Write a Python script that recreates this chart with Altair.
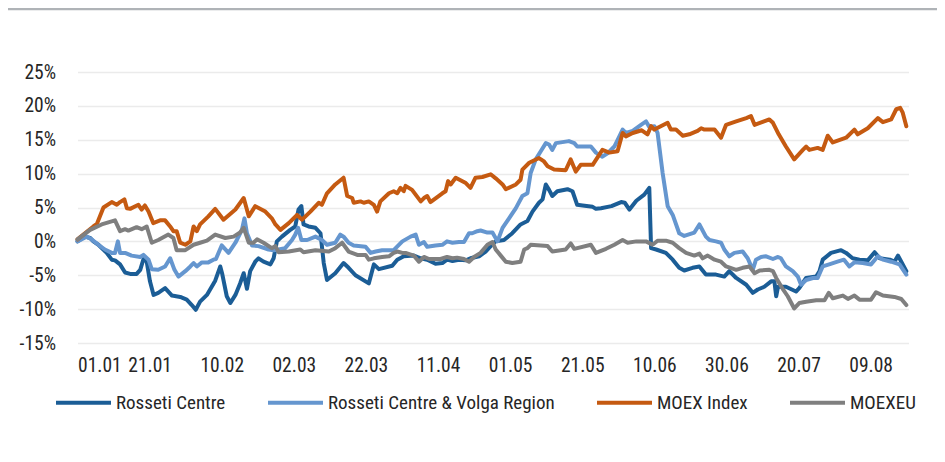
import altair as alt
import pandas as pd

FONT = "Roboto Condensed"
FS = 19.5
LFS = 19

series_names = ["Rosseti Centre", "Rosseti Centre & Volga Region", "MOEX Index", "MOEXEU"]
series_colors = ["#1b5d96", "#6596cf", "#c55a11", "#7f7f7f"]
start_date = "2021-01-01"
tick_days = [0, 20, 40, 60, 80, 100, 120, 140, 160, 180, 200, 220]
y_ticks = [-15, -10, -5, 0, 5, 10, 15, 20, 25]

# Rosseti Centre (day offset from 01.01, % change)
rc_days = [0, 2.1, 3.5, 4.4, 5.8, 8.1, 9.5, 10.4, 11.8, 13.2, 14.6, 16.4, 17.4, 18.3, 19.2, 20.1, 21.1, 22.4,
           24.3, 26.2, 28.5, 30.3, 31.7, 32.8, 34.0, 35.9, 38.2, 39.6, 40.1, 41.4, 42.4, 43.8, 45.1, 46.1, 47.0,
           47.9, 49.3, 50.2, 51.6, 53.5, 54.4, 55.3, 56.7, 59.0, 60.4, 61.3, 62.1, 62.7, 64.1, 66.0, 67.4, 68.3,
           69.2, 71.5, 73.8, 75.2, 77.1, 80.8, 82.2, 83.6, 87.3, 88.7, 90.5, 93.3, 95.2, 97.0, 99.3, 101.2, 102.5,
           104.0, 105.8, 107.7, 109.0, 111.4, 113.2, 114.6, 116.0, 118.3, 120.6, 122.9, 124.8, 126.2, 128.0,
           129.0, 129.9, 130.8, 131.7, 133.1, 135.9, 137.3, 138.6, 140.1, 142.9, 143.8, 145.2, 148.1, 150.8,
           151.8, 153.1, 155.0, 157.2, 158.6, 159.1, 160.5, 163.2, 165.1, 166.9, 168.3, 170.6, 172.5, 174.3,
           177.1, 179.4, 180.8, 182.7, 185.5, 187.3, 188.7, 190.5, 192.4, 193.3, 193.8, 194.3, 196.5, 199.3,
           200.2, 202.1, 204.9, 205.8, 206.7, 209.0, 211.8, 213.2, 215.0, 216.9, 219.2, 221.1, 222.5, 225.3,
           226.6, 227.6, 228.5, 229.9]
rc_vals = [0.0, 0.7, 0.5, 0.0, -0.5, -1.7, -2.7, -2.8, -3.4, -4.6, -4.8, -4.8, -4.2, -2.6, -3.0, -5.9, -7.9, -7.6,
           -6.9, -8.0, -8.2, -8.6, -9.4, -10.1, -8.9, -7.9, -5.8, -3.7, -4.7, -8.1, -9.1, -7.9, -6.2, -4.7, -7.0,
           -4.4, -3.0, -2.5, -3.0, -3.4, -2.5, 0.0, 0.7, 1.7, 2.2, 4.7, 5.2, 2.5, 2.2, 2.0, 1.2, -3.2,
           -5.7, -4.7, -3.2, -3.9, -5.0, -6.2, -3.4, -4.1, -3.6, -2.7, -2.2, -2.1, -2.5, -2.7, -3.3, -3.2, -2.7,
           -2.9, -2.7, -2.8, -2.5, -2.2, -1.5, -0.7, 0.0, 0.2, 1.2, 2.5, 3.0, 4.4, 5.7,
           6.2, 8.4, 7.6, 6.7, 7.4, 7.7, 7.4, 5.4, 5.3, 5.1, 4.8, 4.9, 5.2, 5.8,
           5.7, 4.7, 6.0, 6.9, 7.9, -1.0, -1.2, -1.7, -2.7, -3.9, -4.3, -3.9, -3.7, -4.9,
           -4.9, -5.2, -4.4, -5.4, -6.4, -7.6, -7.1, -6.7, -5.9, -5.9, -8.1, -6.7, -6.7, -7.4,
           -6.9, -5.4, -5.2, -4.4, -2.7, -1.7, -1.3, -1.7, -2.5, -2.7, -2.8, -1.6, -2.5, -2.7,
           -3.0, -2.1, -3.0, -4.4]

# Rosseti Centre & Volga Region
rcv_days = [0, 2.5, 3.9, 5.8, 7.6, 9.5, 10.4, 11.2, 11.8, 13.2, 15.0, 17.4, 18.3, 19.7, 20.6, 22.4, 24.3, 25.7,
            26.9, 28.0, 29.9, 31.3, 32.2, 33.1, 34.5, 36.3, 37.7, 38.4, 40.0, 41.9, 43.8, 45.6, 46.3, 47.0, 48.4,
            50.2, 53.0, 54.4, 55.8, 57.6, 59.5, 60.4, 61.2, 62.1, 63.7, 66.0, 67.8, 69.2, 71.5, 72.9, 73.8, 75.2,
            76.6, 79.9, 81.3, 82.7, 84.5, 87.7, 90.1, 92.4, 93.8, 94.7, 96.1, 97.0, 99.3, 101.2, 102.5, 104.0,
            105.8, 107.2, 108.6, 109.5, 110.9, 111.8, 113.7, 115.1, 116.5, 117.9, 119.7, 121.6, 123.4, 124.8,
            125.7, 127.1, 128.5, 129.9, 130.8, 131.7, 132.7, 136.3, 137.8, 138.6, 142.4, 143.8, 145.6, 147.0,
            148.9, 150.3, 151.2, 152.1, 154.0, 156.3, 157.7, 158.6, 160.0, 160.9, 162.3, 163.7, 165.1, 166.9,
            168.3, 171.1, 172.5, 174.3, 175.3, 177.1, 178.5, 179.4, 180.8, 182.2, 184.5, 185.9, 187.3, 188.2,
            189.6, 191.0, 192.9, 194.3, 195.1, 196.5, 198.4, 199.8, 200.7, 202.1, 204.0, 205.3, 206.7, 208.5,
            210.8, 212.6, 214.1, 215.5, 217.8, 220.1, 222.0, 223.4, 225.7, 228.0, 229.9]
rcv_vals = [0.0, 0.7, 0.3, -0.5, -1.2, -1.7, -1.7, 0.0, -1.7, -1.7, -2.1, -2.3, -2.0, -2.7, -4.1, -4.2, -3.7, -2.5,
            -4.2, -5.2, -4.4, -3.7, -3.2, -3.7, -3.1, -3.1, -2.7, -2.6, -0.6, -1.7, -0.2, 1.7, 3.4, 1.2, -0.6,
            -0.7, -1.2, -1.3, -1.2, -1.0, 0.2, 1.0, 2.0, 0.2, 0.2, 0.7, 0.2, -0.5, -0.2, 1.0, 0.7, -0.2,
            -0.6, -0.8, -1.7, -1.5, -1.3, -1.3, 0.0, 0.7, 1.0, -0.5, -0.1, -0.8, -0.6, -0.5, 0.0, -0.2,
            -0.1, -0.1, 1.2, 1.2, 1.5, 1.6, 1.3, 1.3, 0.0, 2.0, 3.4, 4.9, 6.7, 7.1,
            10.1, 12.1, 13.3, 14.5, 14.3, 13.5, 14.5, 14.8, 14.5, 14.0, 14.0, 13.1, 12.5, 13.0,
            14.0, 15.5, 16.5, 16.0, 16.3, 17.2, 17.7, 16.9, 17.0, 16.0, 10.1, 5.2, 3.9, 1.2,
            0.8, 1.3, 2.5, 0.7, 0.2, 0.0, -0.2, -1.2, -2.2, -1.7, -1.5, -2.5, -4.2, -2.7,
            -2.3, -2.2, -2.6, -2.3, -2.5, -3.7, -4.4, -5.2, -6.4, -5.7, -5.4, -5.4, -3.7, -3.4,
            -3.0, -2.7, -3.7, -3.1, -3.2, -3.4, -2.2, -2.7, -3.0, -3.4, -4.9]

# MOEX Index
moex_days = [0, 4.4, 5.4, 7.2, 9.5, 10.9, 11.8, 13.0, 13.7, 14.6, 16.9, 17.8, 18.7, 19.7, 21.0, 22.9, 24.3, 25.7,
             26.6, 27.5, 28.5, 29.9, 31.3, 32.2, 33.1, 34.0, 36.3, 38.2, 40.5, 43.8, 46.1, 47.5, 49.3, 52.1, 53.9,
             54.9, 56.3, 58.6, 60.9, 62.3, 64.6, 66.9, 67.8, 69.2, 71.5, 73.8, 74.8, 76.2, 76.6, 78.5, 79.4, 80.8,
             82.2, 83.1, 84.0, 86.4, 87.7, 88.7, 89.6, 90.5, 91.0, 92.8, 95.2, 96.1, 97.0, 97.9, 101.2, 102.1,
             102.8, 103.5, 104.9, 107.7, 109.0, 110.4, 112.3, 114.6, 116.0, 117.9, 118.8, 121.6, 122.9, 123.4,
             125.3, 128.0, 129.4, 130.4, 132.2, 135.4, 136.8, 138.2, 139.6, 142.9, 145.6, 147.5, 149.8, 151.2,
             152.1, 154.0, 156.5, 158.1, 159.1, 160.0, 163.7, 164.6, 166.0, 167.9, 169.7, 172.0, 173.0, 173.9,
             176.7, 178.5, 179.9, 182.7, 185.5, 186.8, 187.8, 191.9, 192.9, 194.5, 196.5, 198.8, 201.2, 202.1,
             203.0, 205.3, 206.7, 208.1, 209.5, 213.2, 215.5, 216.4, 219.2, 222.0, 223.4, 225.7, 227.1, 228.2,
             228.9, 229.9]
moex_vals = [0.3, 2.2, 2.6, 5.0, 5.8, 5.4, 5.8, 6.2, 4.9, 4.8, 5.4, 4.7, 5.3, 4.4, 2.7, 3.1, 3.1, 2.2,
             1.5, 1.5, -0.2, -0.5, 0.0, 2.2, 1.5, 2.5, 3.7, 4.8, 3.2, 4.7, 6.4, 3.7, 5.2, 4.4, 3.4,
             2.5, 1.7, 2.7, 3.9, 3.2, 4.4, 5.7, 5.4, 7.1, 8.4, 9.4, 6.7, 6.4, 5.7, 5.9, 5.7, 5.9,
             5.4, 4.4, 5.9, 7.1, 7.4, 7.1, 7.9, 7.4, 8.2, 7.6, 5.9, 6.4, 6.7, 5.8, 7.1, 7.4,
             8.9, 8.4, 9.4, 8.6, 7.9, 9.4, 9.5, 9.9, 9.3, 8.4, 7.7, 8.4, 9.1, 10.6,
             11.6, 12.3, 11.8, 11.1, 10.6, 10.5, 12.1, 10.3, 11.3, 11.3, 13.5, 13.1, 13.3, 16.0,
             15.5, 16.0, 16.4, 15.8, 17.0, 16.5, 17.5, 16.5, 16.5, 15.6, 15.8, 16.3, 16.7, 16.5,
             16.5, 15.3, 17.2, 17.7, 18.2, 18.5, 17.2, 18.0, 17.5, 15.8, 14.0, 12.1, 13.5, 14.0,
             13.5, 13.8, 13.5, 15.6, 14.6, 15.3, 16.5, 15.8, 16.7, 18.2, 17.6, 18.0, 19.5, 19.7,
             19.0, 17.0]

# MOEXEU
eu_days = [0, 3.5, 6.7, 10.4, 11.8, 13.2, 14.1, 16.4, 17.8, 19.2, 20.6, 22.4, 25.2, 26.6, 27.5, 29.9, 32.2, 34.0,
           35.9, 38.2, 41.0, 43.3, 45.1, 46.1, 47.5, 48.8, 49.8, 51.6, 53.9, 54.9, 55.8, 58.6, 61.8, 62.7, 66.0,
           69.7, 71.5, 73.4, 75.2, 77.6, 79.9, 80.8, 82.2, 84.5, 86.4, 87.7, 88.7, 90.1, 91.0, 93.3, 94.7, 96.1,
           97.5, 100.7, 102.5, 104.0, 105.3, 107.2, 108.6, 110.0, 111.8, 113.7, 115.1, 116.0, 117.4, 118.8,
           120.6, 122.9, 123.9, 124.8, 125.7, 130.4, 131.7, 135.4, 136.8, 137.8, 142.4, 143.8, 146.6, 148.9,
           151.2, 152.6, 155.0, 157.7, 159.5, 160.9, 163.2, 165.1, 166.9, 168.8, 171.1, 172.5, 173.4, 174.8,
           176.7, 178.5, 179.9, 182.7, 184.5, 186.4, 187.8, 189.2, 191.9, 192.9, 193.8, 195.6, 197.0, 198.8,
           200.2, 202.1, 204.9, 207.2, 208.4, 209.5, 212.3, 213.7, 215.5, 216.9, 220.1, 221.5, 223.4, 226.6,
           228.5, 229.9]
eu_vals = [0.3, 1.7, 2.5, 3.1, 1.5, 1.8, 1.6, 2.1, 1.8, 2.2, -0.2, 0.2, 1.0, 0.5, -1.3, -1.3, -0.5, -0.2,
           0.1, 1.0, 0.5, 0.7, 1.3, 2.0, -0.2, -0.2, 0.3, -0.2, -1.0, -0.7, -1.6, -1.5, -1.2, -1.6, -1.3,
           -1.5, -1.0, -0.2, -1.5, -2.0, -2.0, -2.7, -2.5, -2.3, -2.2, -1.7, -1.5, -1.7, -1.7, -2.1, -3.0, -2.3,
           -2.6, -2.6, -2.3, -2.5, -2.4, -2.6, -3.0, -2.3, -1.7, -0.5, -0.1, -1.2, -2.1, -3.0,
           -3.2, -3.0, -1.2, -1.0, -0.5, -0.7, -1.5, -1.2, -0.3, -1.1, -0.5, -1.7, -1.1, -0.5,
           0.2, -0.2, 0.0, 0.0, -0.5, 0.1, 0.1, -0.2, -1.0, -1.7, -2.1, -1.8, -2.5, -2.1,
           -2.7, -3.0, -3.7, -4.2, -3.9, -3.7, -4.7, -4.3, -4.2, -4.4, -5.4, -7.0, -8.1, -9.9,
           -9.1, -8.9, -8.7, -8.7, -7.6, -8.4, -8.0, -8.5, -8.0, -8.6, -8.6, -7.5, -8.0, -8.2,
           -8.5, -9.4]

start = pd.Timestamp(start_date)
rows = []
for name, days, vals in zip(series_names, [rc_days, rcv_days, moex_days, eu_days],
                            [rc_vals, rcv_vals, moex_vals, eu_vals]):
    for d, v in zip(days, vals):
        t = start + pd.Timedelta(days=d)
        rows.append({"date": t.strftime("%Y-%m-%dT%H:%M:%S"), "value": v, "series": name})
df = pd.DataFrame(rows)


def dt(ts):
    return alt.DateTime(year=ts.year, month=ts.month, date=ts.day, hours=ts.hour)


tick_values = [dt(start + pd.Timedelta(days=d)) for d in tick_days]
x_domain = [dt(start), dt(start + pd.Timedelta(days=230.5))]

lines = alt.Chart(df).mark_line(strokeWidth=4, strokeJoin="round", strokeCap="round").encode(
    x=alt.X("date:T",
            scale=alt.Scale(domain=x_domain, nice=False),
            axis=alt.Axis(values=tick_values, format="%d.%m", title=None, grid=False, ticks=False,
                          domain=False, labelPadding=13, labelFontSize=FS, labelFont=FONT,
                          labelColor="#262626", labelOverlap=False)),
    y=alt.Y("value:Q",
            scale=alt.Scale(domain=[-15, 25], nice=False, zero=False),
            axis=alt.Axis(values=y_ticks, labelExpr="datum.value + '%'", title=None, ticks=False,
                          domain=False, gridColor="#ebebeb", gridWidth=1.5, labelPadding=22,
                          labelFontSize=FS, labelFont=FONT, labelColor="#262626")),
    color=alt.Color("series:N",
                    scale=alt.Scale(domain=series_names, range=series_colors),
                    sort=series_names,
                    legend=alt.Legend(orient="none", legendX=-23.5, legendY=301, direction="horizontal",
                                      columns=4, title=None, symbolType="stroke", symbolSize=3025,
                                      symbolStrokeWidth=4, labelFontSize=LFS, labelFont=FONT,
                                      labelColor="#262626", labelOffset=3, columnPadding=34,
                                      labelLimit=400, padding=0)),
)

top_rule = alt.Chart(pd.DataFrame({"k": [0]})).mark_rule(color="#afb3b7", strokeWidth=2.5).encode(
    x=alt.value(-69.5), x2=alt.value(859.5), y=alt.value(-63)
)

chart = alt.layer(top_rule, lines).properties(
    width=831, height=271,
    autosize=alt.AutoSizeParams(type="none"),
    padding={"left": 69.5, "top": 64, "right": 28.5, "bottom": 111},
).configure_view(stroke=None)

chart.save("out.html", embed_options={"renderer": "svg", "actions": False})
